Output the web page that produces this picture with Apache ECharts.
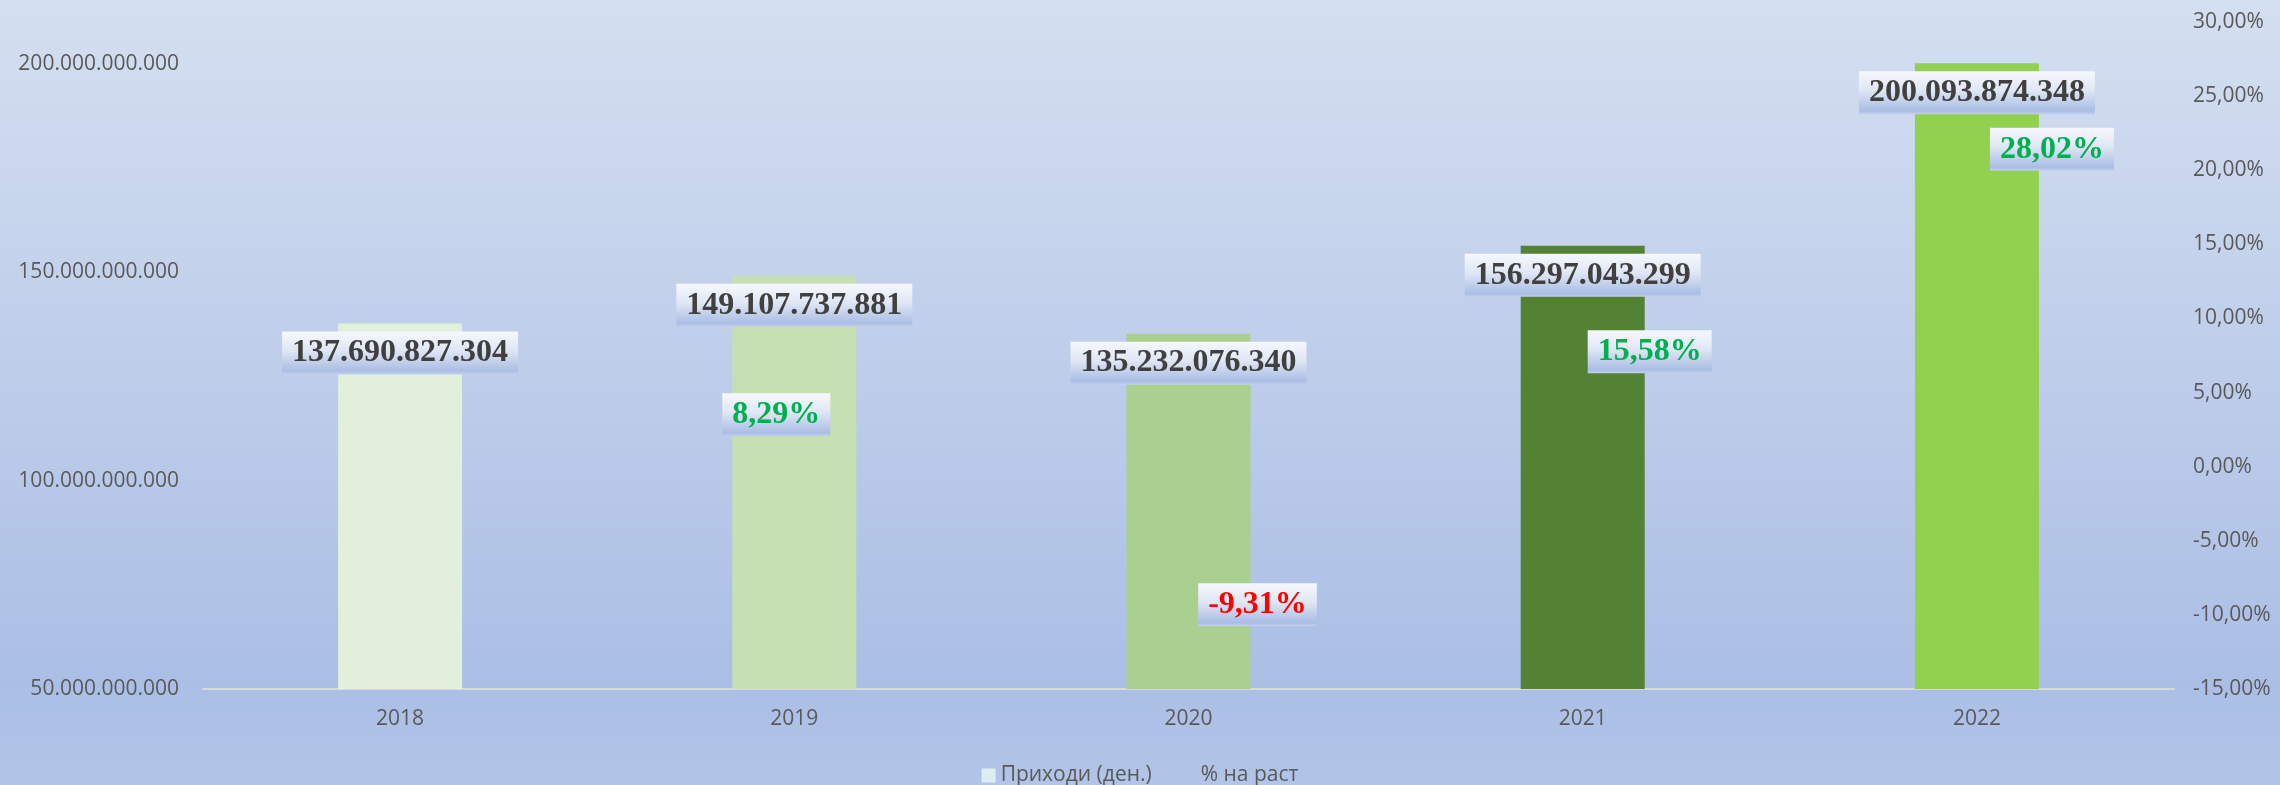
<!DOCTYPE html>
<html>
<head>
<meta charset="utf-8">
<script src="https://cdn.jsdelivr.net/npm/echarts@6/dist/echarts.min.js"></script>
<style>
  html, body { margin: 0; padding: 0; }
  #chart { width: 2280px; height: 785px; }
</style>
</head>
<body>
<div id="chart"></div>
<script>
// податоци
const years = ["2018", "2019", "2020", "2021", "2022"];
const revenue = [137690827304, 149107737881, 135232076340, 156297043299, 200093874348];
const growth = [null, 0.0829, -0.0931, 0.1558, 0.2802];

// изглед
const barColors = ["#e2efda", "#c6e0b4", "#a9d08e", "#548235", "#92d050"];
const growthLabelOffsets = [[0, 0], [-18, 71], [69, 0], [67, 116], [75, 98]];

function fmtThousands(v) {
  return String(Math.round(v)).replace(/\B(?=(\d{3})+(?!\d))/g, ".");
}
function fmtPct(v) {
  return (v * 100).toFixed(2).replace(".", ",") + "%";
}

const labelBox = new echarts.graphic.LinearGradient(0, 0, 0, 1, [
  { offset: 0, color: "#f6f8fd" },
  { offset: 0.45, color: "#dfe6f4" },
  { offset: 0.92, color: "#aabde4" },
  { offset: 1, color: "#c3d0ec" },
]);

let chart = echarts.init(document.getElementById("chart"));

let barData = revenue.map(function (v, i) {
  return { value: v, itemStyle: { color: barColors[i] } };
});
let lineData = growth.map(function (v, i) {
  return {
    value: v,
    label: {
      offset: growthLabelOffsets[i],
      color: v != null && v < 0 ? "#ff0000" : "#00b050",
    },
  };
});

let option = {
  animation: false,
  backgroundColor: new echarts.graphic.LinearGradient(0, 0, 0, 1, [
    { offset: 0, color: "#d4dff0" },
    { offset: 0.87, color: "#abbee5" },
    { offset: 1, color: "#b2c4e7" },
  ]),
  textStyle: { fontFamily: "Open Sans" },
  grid: { left: 203, right: 106, top: 22, bottom: 96 },
  legend: {
    top: 760,
    left: "center",
    itemWidth: 14,
    itemHeight: 14,
    itemGap: 30,
    textStyle: { fontSize: 21, color: "#595959", fontFamily: "Open Sans" },
    data: [
      { name: "Приходи (ден.)", icon: "rect", itemStyle: { color: "#ddeef2" } },
      { name: "% на раст", icon: "rect", itemStyle: { opacity: 0 } },
    ],
  },
  xAxis: {
    type: "category",
    data: years,
    axisTick: { show: false },
    axisLine: { onZero: false, lineStyle: { color: "#d9d9d9", width: 2 } },
    axisLabel: { fontSize: 21, color: "#595959", margin: 20 },
  },
  yAxis: [
    {
      type: "value",
      min: 50000000000,
      max: 210000000000,
      interval: 50000000000,
      splitLine: { show: false },
      axisLine: { show: false },
      axisLabel: {
        fontSize: 21,
        color: "#595959",
        margin: 24,
        showMaxLabel: false,
        formatter: fmtThousands,
      },
    },
    {
      type: "value",
      min: -0.15,
      max: 0.3,
      interval: 0.05,
      splitLine: { show: false },
      axisLine: { show: false },
      axisLabel: {
        fontSize: 21,
        color: "#595959",
        margin: 19,
        formatter: fmtPct,
      },
    },
  ],
  series: [
    {
      name: "Приходи (ден.)",
      type: "bar",
      data: barData,
      barWidth: 124,
      itemStyle: { color: "#ddeef2" },
      label: {
        show: true,
        position: "insideTop",
        distance: 8,
        fontFamily: "Liberation Serif",
        fontWeight: "bold",
        fontSize: 32,
        lineHeight: 33,
        color: "#404040",
        padding: [5, 10],
        backgroundColor: labelBox,
        formatter: function (p) {
          return fmtThousands(p.value);
        },
      },
    },
    {
      name: "% на раст",
      type: "line",
      yAxisIndex: 1,
      data: lineData,
      symbol: "circle",
      symbolSize: 1,
      itemStyle: { color: "rgba(0,0,0,0)" },
      lineStyle: { width: 0, color: "rgba(0,0,0,0)" },
      label: {
        show: true,
        position: "inside",
        fontFamily: "Liberation Serif",
        fontWeight: "bold",
        fontSize: 32,
        lineHeight: 33,
        padding: [5, 10],
        backgroundColor: labelBox,
        formatter: function (p) {
          return p.value == null ? "" : fmtPct(p.value);
        },
      },
    },
  ],
};
chart.setOption(option);
</script>
</body>
</html>
